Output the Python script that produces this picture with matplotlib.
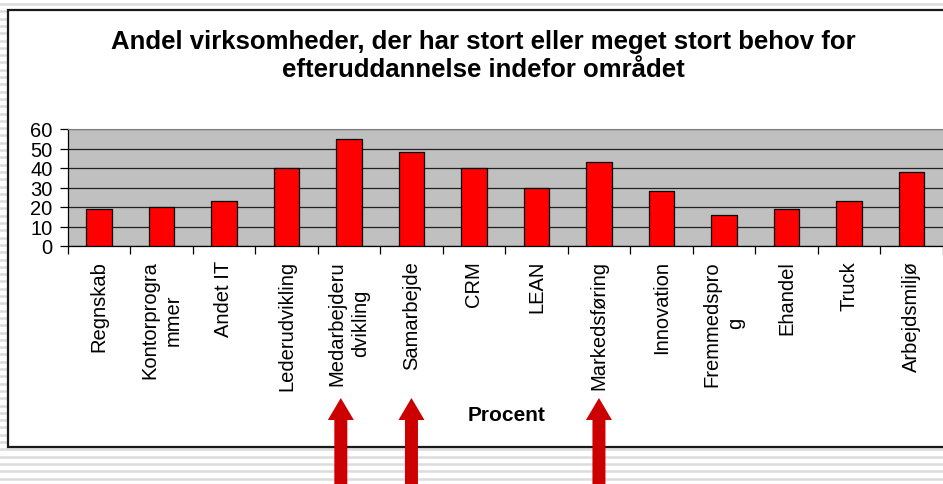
import matplotlib
matplotlib.use("Agg")
import matplotlib.pyplot as plt
from matplotlib.patches import Rectangle, Polygon
from matplotlib.lines import Line2D

plt.rcParams["font.family"] = ["Liberation Sans", "DejaVu Sans"]

# data
categories = [
    "Regnskab", "Kontorprogra\nmmer", "Andet IT", "Lederudvikling",
    "Medarbejderu\ndvikling", "Samarbejde", "CRM", "LEAN", "Markedsføring",
    "Innovation", "Fremmedspro\ng", "Ehandel", "Truck", "Arbejdsmiljø",
]
values = [19, 20, 23, 40, 55, 48, 40, 30, 43, 28, 16, 19, 23, 38]
y_ticks = [0, 10, 20, 30, 40, 50, 60]
highlighted = ["Medarbejderu\ndvikling", "Samarbejde", "Markedsføring"]

title = "Andel virksomheder, der har stort eller meget stort behov for\nefteruddannelse indefor området"
x_title = "Procent"

W, H = 943, 485
fig = plt.figure(figsize=(W / 100, H / 100), dpi=100)
fig.patch.set_facecolor("white")


def fx(px):
    return px / W


def fy(py):
    # py measured from the top of the image
    return 1 - py / H


# striped slide background
y = 5.0
while y < H + 5:
    fig.add_artist(Line2D([0, 1], [fy(y), fy(y)], transform=fig.transFigure,
                          color="#dcdcdc", lw=1.8, zorder=0))
    y += 7.3

# chart frame
fig.add_artist(Rectangle((fx(8), fy(448)), fx(980), fy(11) - fy(448),
                         transform=fig.transFigure, facecolor="white",
                         edgecolor="#1a1a1a", lw=1.6, zorder=1))

ax = fig.add_axes([fx(67.7), fy(247), fx(875), fy(130) - fy(247)], zorder=2)
ax.set_facecolor("#c0c0c0")

x = list(range(len(categories)))
ax.bar(x, values, width=0.41, color="#ff0000", edgecolor="black", lw=0.9, zorder=3)

ax.set_xlim(-0.5, len(categories) - 0.5)
ax.set_ylim(0, 60)
ax.set_yticks(y_ticks)
ax.yaxis.grid(True, color="#222222", lw=0.9, zorder=1)
ax.set_axisbelow(True)

ax.set_xticks([i - 0.5 for i in range(len(categories) + 1)])
ax.set_xticklabels([])
ax.set_xticks(x, minor=True)
ax.set_xticklabels(categories, minor=True, rotation=90, ha="center", va="top",
                   multialignment="center", linespacing=1.3, fontsize=14.5)
ax.tick_params(axis="x", which="major", length=6, width=0.9, direction="out")
ax.tick_params(axis="x", which="minor", length=0, pad=10)
ax.tick_params(axis="y", length=6, width=0.9, labelsize=14.5, pad=5)

for side in ["top", "right"]:
    ax.spines[side].set_color("#808080")
ax.spines["right"].set_visible(False)
ax.spines["left"].set_linewidth(0.9)
ax.spines["bottom"].set_linewidth(0.9)

ax.set_xlabel(x_title, fontsize=15, fontweight="bold", va="center")
ax.xaxis.set_label_coords(0.501, -1.444)

fig.text(fx(483), fy(30), title, ha="center", va="top", fontsize=18.5,
         fontweight="bold", linespacing=1.22)

# red arrows pointing up at the highlighted categories
fig.canvas.draw()
for name in highlighted:
    i = categories.index(name)
    shift = -0.13 if "\n" in name else 0.0
    cx = ax.transData.transform((i + shift, 0))[0]
    tip, base, bottom = H - 399, H - 421, -5
    hw, sw = 13, 6.5
    pts = [(cx, tip), (cx + hw, base), (cx + sw, base), (cx + sw, bottom),
           (cx - sw, bottom), (cx - sw, base), (cx - hw, base)]
    fig.add_artist(Polygon(pts, closed=True, transform=None,
                           facecolor="#cc0000", edgecolor="none", zorder=5))

fig.savefig("out.png", dpi=100)
